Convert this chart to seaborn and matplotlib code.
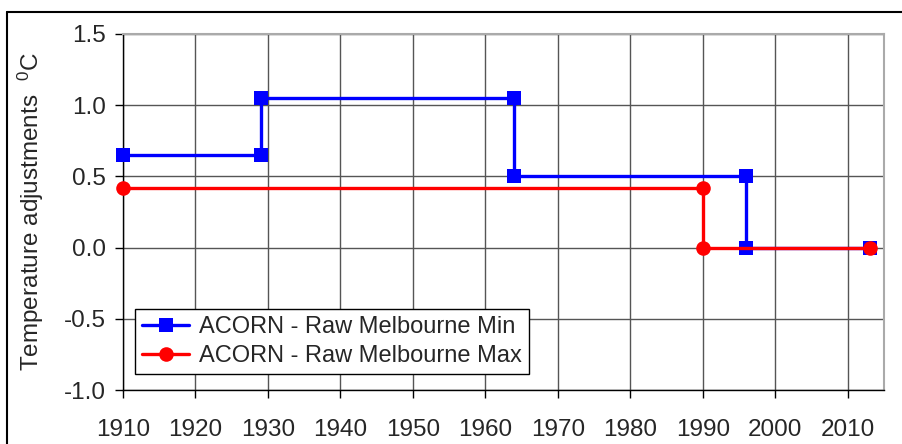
import matplotlib
matplotlib.use("Agg")
import matplotlib.pyplot as plt
import matplotlib.ticker as mticker
import seaborn as sns
import pandas as pd

# step series (year, adjustment in degC)
min_years = [1910, 1929, 1929, 1964, 1964, 1996, 1996, 2013]
min_values = [0.65, 0.65, 1.05, 1.05, 0.50, 0.50, 0.00, 0.00]
max_years = [1910, 1990, 1990, 2013]
max_values = [0.42, 0.42, 0.00, 0.00]

min_label = "ACORN - Raw Melbourne Min"
max_label = "ACORN - Raw Melbourne Max"

df_min = pd.DataFrame({"Year": min_years, "Adj": min_values})
df_max = pd.DataFrame({"Year": max_years, "Adj": max_values})

sns.set_style("ticks")
plt.rcParams['font.family'] = ['Liberation Sans', 'DejaVu Sans']

fig = plt.figure(figsize=(9.03, 4.44), dpi=100)
ax = fig.add_axes([123 / 903, 54 / 444, 761 / 903, 356 / 444])

sns.lineplot(ax=ax, data=df_min, x="Year", y="Adj", sort=False, estimator=None,
             color="#0000ff", lw=2.4, marker="s", markersize=10,
             markeredgewidth=0, label=min_label, clip_on=False, zorder=3)
sns.lineplot(ax=ax, data=df_max, x="Year", y="Adj", sort=False, estimator=None,
             color="#ff0000", lw=2.4, marker="o", markersize=10.5,
             markeredgewidth=0, label=max_label, clip_on=False, zorder=4)

ax.set_xlim(1910, 2015)
ax.set_ylim(-1.0, 1.5)
ax.set_xticks(range(1910, 2011, 10))
ax.set_yticks([-1.0, -0.5, 0.0, 0.5, 1.0, 1.5])
ax.yaxis.set_major_formatter(mticker.FuncFormatter(lambda v, p: f"{v:.1f}".replace("\u2212", "-")))
ax.grid(True, color="#555555", lw=1.0)
ax.set_axisbelow(True)

ax.tick_params(axis="both", direction="out", length=6, width=1, color="black",
               labelsize=17.5, left=True, bottom=True)
ax.tick_params(axis="y", pad=6)
ax.tick_params(axis="x", pad=15)

for side in ["left", "bottom"]:
    ax.spines[side].set_color("black")
    ax.spines[side].set_linewidth(1.0)
for side in ["top", "right"]:
    ax.spines[side].set_visible(True)
    ax.spines[side].set_color("#aaaaaa")
    ax.spines[side].set_linewidth(1.5)

ax.set_xlabel("")
ax.set_ylabel("Temperature adjustments  $\\mathregular{^0}$C", fontsize=17.5, labelpad=13)

leg = ax.legend(loc="lower left", bbox_to_anchor=(0.016, 0.045), borderaxespad=0,
                fontsize=17, frameon=True, fancybox=False, shadow=False,
                handlelength=2.0, handletextpad=0.4, borderpad=0.3, labelspacing=0.3)
leg.get_frame().set_edgecolor("black")
leg.get_frame().set_linewidth(1.0)
leg.get_frame().set_alpha(1)

# outer frame lines (left and top only visible)
fig.add_artist(plt.Line2D([7 / 903, 7 / 903], [0, 1 - 12 / 444], color="black", lw=1.5,
                          transform=fig.transFigure))
fig.add_artist(plt.Line2D([7 / 903, 1], [1 - 12 / 444, 1 - 12 / 444], color="black", lw=1.5,
                          transform=fig.transFigure))

fig.savefig("out.png", dpi=100)
